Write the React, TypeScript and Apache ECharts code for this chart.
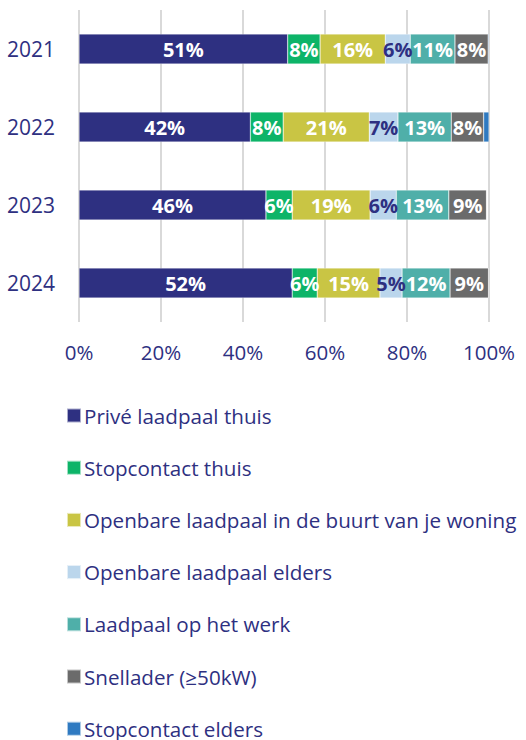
import React, { useEffect, useRef } from "react";
import * as echarts from "echarts";

const years = ["2021", "2022", "2023", "2024"];
const seriesNames = [
  "Privé laadpaal thuis",
  "Stopcontact thuis",
  "Openbare laadpaal in de buurt van je woning",
  "Openbare laadpaal elders",
  "Laadpaal op het werk",
  "Snellader (≥50kW)",
  "Stopcontact elders",
];
const priveThuis = [50.9, 41.8, 45.6, 52.0];
const stopcontactThuis = [7.9, 8.0, 6.4, 6.1];
const openbaarBuurt = [15.9, 21.0, 19.0, 15.3];
const openbaarElders = [6.1, 7.0, 6.4, 5.4];
const werk = [10.9, 13.0, 12.8, 11.7];
const snellader = [8.1, 7.9, 9.2, 9.4];
const stopcontactElders = [0.2, 1.3, 0, 0];
const xTicks = [0, 20, 40, 60, 80, 100];

const seriesData = [priveThuis, stopcontactThuis, openbaarBuurt, openbaarElders, werk, snellader, stopcontactElders];
const colors = ["#2E3081", "#0DB468", "#C9C544", "#BBD6EC", "#4FAFA9", "#6B6B6B", "#2F7AC1"];
const labelColors = ["#fff", "#fff", "#fff", "#2E3081", "#fff", "#fff", "#fff"];

const FONT = "'Open Sans', sans-serif";
const NAVY = "#2E3081";

export default function App() {
  const ref = useRef<HTMLDivElement>(null);
  useEffect(() => {
    const chart = echarts.init(ref.current!, undefined, { renderer: "svg" });
    chart.setOption({
      animation: false,
      grid: { left: 79, right: 37, top: 10, height: 312, containLabel: false },
      xAxis: {
        type: "value",
        min: xTicks[0],
        max: xTicks[xTicks.length - 1],
        interval: 20,
        axisLabel: {
          formatter: (v: number) => v + "%",
          color: NAVY,
          fontFamily: FONT,
          fontSize: 20.5,
          margin: 19,
        },
        axisLine: { show: false },
        axisTick: { show: false },
        splitLine: { lineStyle: { color: "#D9D9D9", width: 2 } },
      },
      yAxis: {
        type: "category",
        data: years,
        inverse: true,
        axisLabel: { color: NAVY, fontFamily: FONT, fontSize: 21, margin: 24 },
        axisLine: { show: false },
        axisTick: { show: false },
        splitLine: { show: false },
      },
      legend: {
        orient: "vertical",
        left: 61,
        top: 400,
        height: 700,
        padding: [5, 0, 0, 5],
        itemWidth: 14,
        itemHeight: 14,
        itemGap: 31.2,
        icon: "rect",
        textStyle: { color: NAVY, fontFamily: FONT, fontSize: 20.6, lineHeight: 20, padding: [0, 0, 0, -2] },
        data: seriesNames,
      },
      series: seriesNames.map((name, i) => ({
        name,
        type: "bar",
        stack: "total",
        barWidth: 30,
        data: seriesData[i],
        itemStyle: { color: colors[i], borderColor: "rgba(255,255,255,0.6)", borderWidth: 0.5 },
        label: {
          show: true,
          position: "inside",
          color: labelColors[i],
          fontFamily: FONT,
          fontWeight: "bold",
          fontSize: 20,
          formatter: (p: any) => (p.value >= 3 ? Math.round(p.value) + "%" : ""),
        },
      })),
    });
    return () => chart.dispose();
  }, []);
  return <div ref={ref} style={{ width: 526, height: 740, position: "absolute", left: 0, top: 0 }} />;
}
